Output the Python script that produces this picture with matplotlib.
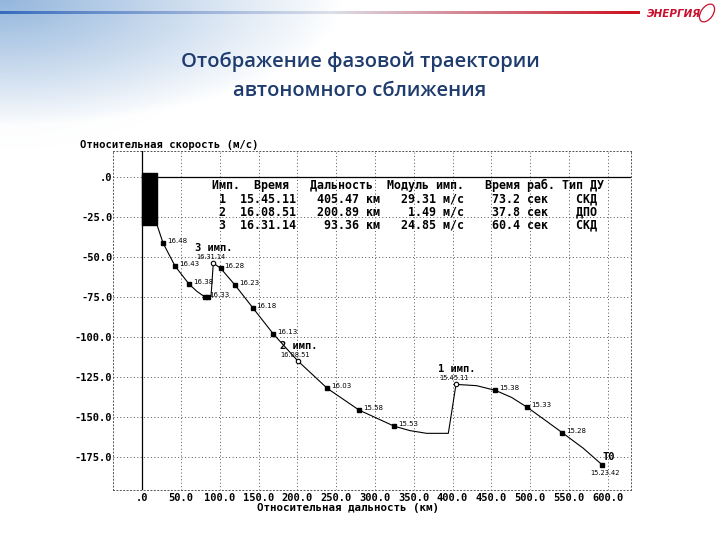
import matplotlib.pyplot as plt
import numpy as np
from matplotlib.patches import Ellipse

# trajectory (range km, relative speed m/s), time order from T0 to the end
traj_range = [593, 568.5, 541.4, 519, 496.3, 476, 455, 431, 404.4, 394.5, 366.6, 345,
              324.5, 279.4, 238.5, 200.3, 168.9, 142.3, 119.5, 101, 91.5, 88.6, 84.7,
              80.8, 70.5, 60.2, 42.2, 26.7, 19]
traj_speed = [-179.7, -169.3, -159.6, -151.7, -143.8, -137.6, -133.2, -130.3, -129.5,
              -160, -160, -158.3, -155.5, -145.5, -132, -114.8, -98.1, -81.7, -67.6,
              -57.2, -53.9, -74.5, -75.1, -75.1, -71.6, -67, -55.8, -41.4, -30.2]

# time marks along the trajectory
mark_range = [541.4, 496.3, 455, 324.5, 279.4, 238.5, 168.9, 142.3, 119.5, 101, 80.8, 60.2, 42.2, 26.7]
mark_speed = [-159.6, -143.8, -133.2, -155.5, -145.5, -132, -98.1, -81.7, -67.6, -57.2, -75.1, -67, -55.8, -41.4]
mark_labels = ['15.28', '15.33', '15.38', '15.53', '15.58', '16.03', '16.13', '16.18',
               '16.23', '16.28', '16.33', '16.38', '16.43', '16.48']
extra_range = [84.7]
extra_speed = [-75.1]

# impulses
imp_range = [404.4, 200.3, 91.5]
imp_speed = [-129.5, -114.8, -53.9]
imp_names = ['1 имп.', '2 имп.', '3 имп.']
imp_times = ['15.45.11', '16.08.51', '16.31.14']

# start point T0
t0_range = [593]
t0_speed = [-179.7]
t0_time = '15.23.42'

# target zone box
box_range = [-1, 19]
box_speed = [2.5, -30]

# parameter table: (column, text) per row
table_header = [(0, 'Имп.'), (6, 'Время'), (14, 'Дальность'), (25, 'Модуль имп.'),
                (39, 'Время раб.'), (50, 'Тип ДУ')]
table_data = [
    [(1, '1'), (4, '15.45.11'), (15, '405.47 км'), (27, '29.31 м/с'), (40, '73.2 сек'), (52, 'СКД')],
    [(1, '2'), (4, '16.08.51'), (15, '200.89 км'), (28, '1.49 м/с'), (40, '37.8 сек'), (52, 'ДПО')],
    [(1, '3'), (4, '16.31.14'), (16, '93.36 км'), (27, '24.85 м/с'), (40, '60.4 сек'), (52, 'СКД')],
]

x_ticks = np.arange(0, 601, 50)
y_ticks = np.arange(0, -176, -25)


def build_row(fields):
    s = ''
    for col, txt in fields:
        s = s.ljust(col) + txt
    return s


W, H = 720, 540
fig = plt.figure(figsize=(7.2, 5.4), dpi=100)

# background: soft blue corner + header line
bg = fig.add_axes([0, 0, 1, 1], zorder=-5)
yy, xx = np.mgrid[0:H, 0:W].astype(float)
d = np.sqrt((xx / 340.0) ** 2 + (yy / 125.0) ** 2)
w = np.clip(1 - d, 0, 1) ** 0.9 * 0.72
inner = np.sqrt((xx / 240.0) ** 2 + (yy / 150.0) ** 2)
w = w + 0.12 * np.clip(1 - inner, 0, 1)
w = np.clip(w, 0, 1)
blue = np.array([0.50, 0.66, 0.84])
img = np.ones((H, W, 3)) * (1 - w[..., None]) + blue * w[..., None]
lx = np.arange(W)
c_left = np.array([0.22, 0.42, 0.74])
c_mid = np.array([0.86, 0.88, 0.92])
c_right = np.array([0.80, 0.08, 0.14])
t1 = np.clip(lx / 330.0, 0, 1)[:, None]
t2 = np.clip((lx - 330) / 300.0, 0, 1)[:, None]
line_col = np.where(lx[:, None] < 330, c_left * (1 - t1) + c_mid * t1, c_mid * (1 - t2) + c_right * t2)
for r in (11, 12, 13):
    img[r, :640] = line_col[:640]
bg.imshow(img, extent=[0, W, H, 0], aspect='auto', interpolation='bilinear')
bg.set_xlim(0, W)
bg.set_ylim(H, 0)
bg.axis('off')
bg.add_patch(Ellipse((707, 13), 12, 20, angle=35, fill=False, ec='#c8102e', lw=0.9))
fig.text(647 / W, 1 - 14 / H, 'ЭНЕРГИЯ', color='#c8102e', fontsize=7.5,
         fontweight='bold', fontstyle='italic', va='center', ha='left')

fig.text(0.5, 1 - 62 / H, 'Отображение фазовой траектории', ha='center', va='center',
         fontsize=14.5, color='#1f3c6e', family='Open Sans', fontweight='semibold')
fig.text(0.5, 1 - 91 / H, 'автономного сближения', ha='center', va='center',
         fontsize=14.5, color='#1f3c6e', family='Open Sans', fontweight='semibold')

# chart
ax = fig.add_axes([113 / W, 1 - 490 / H, (631 - 113) / W, (490 - 151) / H])
ax.set_facecolor('white')
ax.set_xlim(-37.8, 630)
ax.set_ylim(-195.3, 15.9)
mono = 'DejaVu Sans Mono'
ax.set_xticks(x_ticks)
ax.set_xticklabels(['.0' if v == 0 else f'{v:.1f}' for v in x_ticks],
                   family=mono, fontweight='bold', fontsize=7.5)
ax.set_yticks(y_ticks)
ax.set_yticklabels(['.0' if v == 0 else f'{v:.1f}' for v in y_ticks],
                   family=mono, fontweight='bold', fontsize=7.5)
ax.tick_params(length=0, pad=2.5)
ax.tick_params(axis='y', pad=0.5)
ax.grid(True, color='#555555', linestyle=(0, (1, 2.5)), linewidth=0.7)
for s in ax.spines.values():
    s.set_linestyle((0, (1, 2.5)))
    s.set_linewidth(0.7)
    s.set_edgecolor('#555555')

ax.axvline(0, color='black', lw=0.9, zorder=3)
ax.plot([0, 630], [0, 0], color='black', lw=0.9, zorder=3)
ax.fill_between(box_range, box_speed[0], box_speed[1], color='black', zorder=4)

ax.plot(traj_range, traj_speed, color='black', lw=0.8, zorder=5)
ax.plot(mark_range + extra_range + t0_range, mark_speed + extra_speed + t0_speed,
        's', color='black', ms=3.3, zorder=6)
ax.plot(imp_range, imp_speed, 'o', mfc='white', mec='black', ms=3.2, mew=0.8, zorder=6)

for xv, yv, lab in zip(mark_range, mark_speed, mark_labels):
    ax.annotate(lab, (xv, yv), xytext=(4, 2), textcoords='offset pixels',
                fontsize=5, va='center', ha='left', zorder=7)
for xv, yv, nm, tm in zip(imp_range, imp_speed, imp_names, imp_times):
    ax.annotate(tm, (xv, yv), xytext=(-17, 6), textcoords='offset pixels',
                fontsize=4.8, va='center', ha='left', zorder=7)
    ax.annotate(nm, (xv, yv), xytext=(-18, 15), textcoords='offset pixels',
                family=mono, fontweight='bold', fontsize=7.5, va='center', ha='left', zorder=7)
ax.annotate('T0', (t0_range[0], t0_speed[0]), xytext=(0, 8), textcoords='offset pixels',
            family=mono, fontweight='bold', fontsize=7.5, va='center', ha='left', zorder=7)
ax.annotate(t0_time, (t0_range[0], t0_speed[0]), xytext=(-12, -8), textcoords='offset pixels',
            fontsize=4.8, va='center', ha='left', zorder=7)

# parameter table
for i, fields in enumerate([table_header] + table_data):
    fig.text(211.7 / W, 1 - (185.7 + 13 * i) / H, build_row(fields), family=mono,
             fontweight='bold', fontsize=8.4, va='center', ha='left')

fig.text(80 / W, 1 - 145 / H, 'Относительная скорость (м/с)', family=mono,
         fontweight='bold', fontsize=7.6, va='center', ha='left')
fig.text(257 / W, 1 - 508 / H, 'Относительная дальность (км)', family=mono,
         fontweight='bold', fontsize=7.8, va='center', ha='left')

fig.savefig('out.png', dpi=100)
